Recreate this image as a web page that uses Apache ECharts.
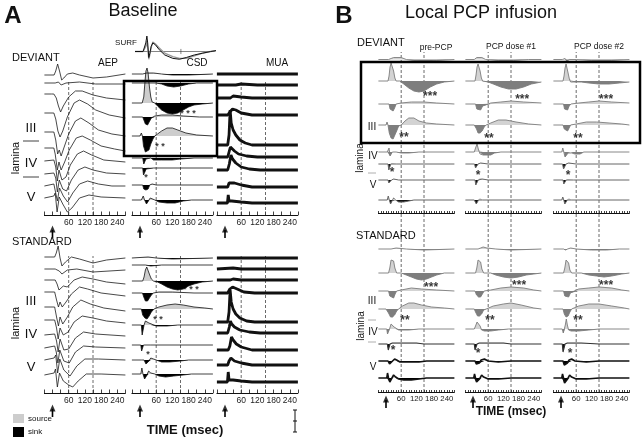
<!DOCTYPE html>
<html><head><meta charset="utf-8">
<script src="https://cdn.jsdelivr.net/npm/echarts@6/dist/echarts.min.js"></script>
<style>html,body{margin:0;padding:0;background:#fff}#c{width:644px;height:442px}</style>
</head><body><div id="c"></div>
<script>
// ---------- DATA (time ms, amplitude units; upward positive) ----------
const tickLabels = [60, 120, 180, 240];
const dashedTimes = [60, 150];

const surfBlack = [[-30,0],[0,0],[5,2],[10,10],[14,18],[17,10],[21,-7],[25,-2],[30,6],[36,10],[45,8],[60,2],[80,-4],[110,-8],[135,-9],[160,-7],[190,-4],[220,-2],[250,0],[270,1]];
const surfGray  = [[-30,0],[0,0],[5,1],[10,6],[14,12],[17,4],[21,-9],[25,-4],[30,5],[36,11],[45,9],[60,4],[80,-2],[110,-6],[135,-8],[160,-8],[190,-5],[220,-2],[250,0],[270,1]];

const aepDeviant = [
 [[-30,0],[6,0],[12,4],[19,11],[26,4],[34,-5],[42,-3],[55,1],[75,2],[100,0],[150,-3],[200,-2],[270,1]],
 [[-30,0],[10,0],[15,-2],[22,1],[32,-2],[50,0],[100,1],[160,-1],[270,-1]],
 [[-30,0],[-3,0],[1,-2],[5,0],[14,-4],[22,-12],[30,-18],[40,-12],[60,-3],[85,3],[110,3],[150,-1],[200,-4],[270,-6]],
 [[-30,0],[5,0],[12,-6],[20,-18],[28,-24],[38,-18],[55,-4],[80,10],[100,13],[130,9],[160,3],[210,-2],[270,-5]],
 [[-30,0],[5,0],[12,-8],[19,-22],[25,-18],[32,-24],[42,-16],[60,-2],[85,11],[105,14],[135,9],[170,2],[220,-2],[270,-4]],
 [[-30,0],[5,0],[10,-6],[18,-22],[24,-14],[32,-22],[45,-14],[62,-2],[88,10],[110,12],[140,8],[180,2],[230,-1],[270,-3]],
 [[-30,0],[5,1],[12,-6],[18,-20],[24,-9],[35,-19],[50,-16],[66,-4],[92,7],[115,10],[145,6],[190,1],[270,-1]],
 [[-30,0],[5,1],[12,-4],[18,-18],[25,-6],[38,-15],[52,-17],[70,-6],[95,4],[120,7],[150,4],[200,1],[270,0]],
 [[-30,0],[5,2],[10,3],[18,-15],[26,-2],[40,-10],[56,-16],[75,-7],[100,2],[130,5],[170,2],[220,0],[270,0]],
 [[-30,0],[5,2],[10,5],[17,-14],[25,1],[38,-6],[55,-14],[72,-10],[100,0],[135,3],[180,1],[270,0]]
];
const aepStandard = [
 [[-30,0],[8,0],[14,4],[21,11],[28,-1],[35,-9],[48,-5],[70,0],[100,-2],[150,-6],[200,-3],[270,-1]],
 [[-30,0],[10,0],[17,2],[25,-2],[35,-5],[55,-1],[90,0],[150,-3],[270,-1]],
 [[-30,0],[10,0],[17,-4],[24,-10],[30,-11],[40,-6],[55,-7],[80,0],[110,3],[150,1],[200,-2],[270,-4]],
 [[-30,0],[8,0],[15,-8],[22,-15],[28,-10],[36,-15],[50,-10],[70,-2],[100,5],[130,3],[180,-1],[270,-4]],
 [[-30,0],[8,0],[15,-10],[22,-19],[28,-10],[38,-17],[55,-10],[75,0],[105,7],[140,3],[190,-1],[270,-4]],
 [[-30,0],[8,0],[15,-8],[21,-19],[28,-8],[40,-15],[58,-12],[80,-2],[110,4],[150,2],[200,-1],[270,-3]],
 [[-30,0],[8,1],[15,-6],[21,-17],[28,-4],[42,-15],[60,-14],[85,-3],[115,3],[160,1],[270,-1]],
 [[-30,0],[8,2],[14,-4],[20,-15],[27,-2],[42,-13],[62,-15],[85,-4],[115,2],[160,1],[270,0]],
 [[-30,0],[6,2],[12,5],[19,-13],[27,1],[42,-10],[65,-16],[90,-6],[120,1],[170,1],[270,0]],
 [[-30,0],[6,2],[11,6],[18,-12],[26,2],[40,-6],[60,-10],[75,-12],[95,-6],[125,1],[180,1],[270,0]]
];

const csdDeviant = [
 [[-30,0],[10,0],[25,1],[50,1],[80,0],[120,-1],[180,-1],[270,0]],
 [[-30,0],[15,0],[20,-1],[28,0],[60,0],[80,-1],[100,-3],[125,-4],[150,-3],[180,-1],[210,0],[270,0]],
 [[-30,0],[8,0],[14,6],[18,20],[22,32],[26,35],[30,30],[35,16],[40,6],[45,1],[55,0],[65,-3],[80,-7],[100,-10],[120,-11],[140,-10],[160,-7],[180,-4],[200,-2],[230,-1],[270,0]],
 [[-30,0],[10,0],[15,-2],[20,-7],[28,-8],[35,-6],[42,-1],[55,1],[80,2],[120,2],[160,1],[220,0],[270,0]],
 [[-30,0],[0,0],[5,3],[9,0],[13,-10],[20,-16],[27,-17],[33,-14],[40,-8],[48,-3],[55,0],[65,2],[80,5],[100,8],[120,8],[140,6],[170,3],[210,1],[270,0]],
 [[-30,0],[10,0],[14,-6],[18,-6],[22,-1],[28,1],[40,0],[50,-2],[80,-2],[120,-2],[150,-1],[200,0],[270,0]],
 [[-30,0],[10,0],[13,-7],[20,-7],[23,-1],[30,1],[50,0],[100,0],[270,0]],
 [[-30,0],[10,0],[14,-4],[22,-5],[30,-4],[36,0],[45,1],[60,0],[100,0],[270,0]],
 [[-30,0],[5,0],[12,4],[17,0],[24,-4],[30,-2],[38,2],[45,1],[55,0],[70,-2],[100,-3],[130,-3],[160,-1],[190,0],[270,0]]
];
const csdStandard = [
 [[-30,0],[30,1],[60,0],[120,-1],[270,0]],
 [[-30,0],[20,0],[40,-1],[80,0],[270,0]],
 [[-30,0],[10,0],[15,4],[20,11],[25,14],[30,12],[36,6],[42,2],[50,0],[65,-1],[80,-3],[100,-6],[120,-8],[140,-9],[160,-8],[180,-5],[200,-3],[230,-1],[270,0]],
 [[-30,0],[0,0],[5,2],[9,0],[14,-4],[20,-8],[28,-8],[35,-6],[42,-2],[50,0],[70,1],[120,1],[200,0],[270,0]],
 [[-30,0],[5,0],[10,-6],[18,-9],[26,-10],[34,-7],[42,-3],[52,0],[70,2],[100,4],[130,5],[160,4],[200,2],[240,1],[270,0]],
 [[-30,0],[5,0],[8,-10],[12,-10],[15,0],[20,4],[26,5],[33,2],[40,0],[60,-1],[100,-1],[140,0],[270,0]],
 [[-30,0],[3,0],[6,-6],[10,-6],[13,0],[20,1],[40,0],[270,0]],
 [[-30,0],[5,0],[10,2],[15,0],[22,-4],[30,-2],[40,2],[50,1],[60,0],[80,-2],[110,-2],[150,-1],[180,0],[270,0]],
 [[-30,0],[3,0],[7,6],[11,0],[17,-5],[24,-2],[32,3],[40,1],[55,0],[70,-2],[95,-3],[125,-2],[160,-1],[190,0],[270,0]]
];
const csdDeviantStars = [[2,178,-8,'* * *'],[4,74,-8,'* *'],[6,22,-7,'*']];
const csdStandardStars = [[2,189,-6,'* * *'],[4,67,-8,'* *'],[6,30,-7,'*']];

const muaDeviant = [
 [[-30,0],[270,0]],
 [[-30,0],[40,0],[60,1],[120,0],[270,0]],
 [[-30,0],[20,0],[30,2],[60,1],[100,0],[270,0]],
 [[-30,0],[10,0],[18,3],[28,6],[40,5],[60,2],[100,0],[270,0]],
 [[-30,0],[10,0],[15,10],[19,35],[23,22],[30,15],[40,10],[55,5],[75,2],[100,0],[270,0]],
 [[-30,0],[10,0],[16,6],[20,10],[25,8],[35,6],[50,3],[80,1],[120,0],[270,0]],
 [[-30,0],[10,0],[16,6],[22,15],[28,11],[40,7],[60,3],[90,1],[130,0],[270,0]],
 [[-30,0],[10,0],[15,4],[22,6],[35,4],[60,2],[100,0],[270,0]],
 [[-30,0],[9,0],[12,8],[15,2],[25,2],[60,1],[100,0],[270,0]]
];
const muaStandard = [
 [[-30,0],[270,0]],
 [[-30,0],[30,1],[60,0],[270,0]],
 [[-30,0],[20,0],[30,1],[60,0],[270,0]],
 [[-30,0],[10,0],[18,4],[28,6],[45,4],[70,1],[110,0],[270,0]],
 [[-30,0],[10,0],[15,10],[19,32],[23,20],[30,13],[40,8],[55,4],[80,1],[110,0],[270,0]],
 [[-30,0],[10,0],[16,6],[20,12],[25,9],[35,6],[55,3],[90,1],[130,0],[270,0]],
 [[-30,0],[12,0],[18,4],[24,13],[30,10],[42,6],[60,3],[100,0],[270,0]],
 [[-30,0],[10,0],[15,4],[22,7],[35,4],[60,2],[100,0],[270,0]],
 [[-30,0],[9,0],[12,10],[15,2],[30,2],[60,1],[100,0],[270,0]]
];

const prePcpDeviant = [
 [[-30,0],[10,0],[20,1],[30,2],[60,2],[80,0],[110,-1],[160,-2],[200,-1],[270,0]],
 [[-30,0],[8,0],[12,5],[16,14],[20,18],[25,17],[30,10],[35,3],[40,0],[55,0],[70,-3],[90,-7],[110,-10],[130,-11],[150,-10],[175,-6],[200,-3],[230,-1],[270,0]],
 [[-30,0],[12,0],[16,-5],[22,-7],[28,-7],[34,-4],[40,0],[60,1],[100,2],[150,2],[200,1],[270,0]],
 [[-30,0],[0,0],[4,3],[8,0],[13,-8],[20,-13],[28,-14],[35,-12],[42,-6],[50,-1],[60,0],[75,4],[90,7],[110,7],[130,4],[160,2],[200,1],[270,0]],
 [[-30,0],[5,0],[12,4],[16,-4],[20,-6],[25,0],[30,2],[40,0],[60,-1],[90,-1],[130,0],[270,0]],
 [[-30,0],[8,0],[11,-6],[16,-6],[19,0],[25,1],[40,0],[270,0]],
 [[-30,0],[8,0],[11,-3],[18,-3],[22,0],[30,1],[50,0],[270,0]],
 [[-30,0],[5,0],[9,4],[13,0],[18,-4],[24,-1],[30,2],[38,0],[50,-2],[70,-2],[90,-1],[110,0],[270,0]]
];
const prePcpStandard = [
 [[-30,0],[20,0],[40,1],[80,0],[150,-1],[270,0]],
 [[-30,0],[10,0],[15,5],[20,13],[25,15],[30,12],[35,5],[42,0],[60,0],[80,-2],[100,-4],[120,-6],[140,-7],[160,-6],[180,-4],[200,-2],[230,0],[270,0]],
 [[-30,0],[0,0],[5,2],[10,0],[15,-5],[22,-7],[30,-7],[36,-3],[42,0],[60,1],[100,3],[140,2],[200,1],[270,0]],
 [[-30,0],[0,0],[5,2],[10,-4],[18,-8],[26,-8],[34,-6],[42,-2],[50,0],[65,3],[90,6],[110,6],[140,4],[180,2],[230,1],[270,0]],
 [[-30,0],[3,0],[6,-5],[10,-5],[14,0],[20,5],[26,5],[32,2],[38,0],[50,-1],[90,-1],[130,0],[270,0]],
 [[-30,0],[5,0],[9,-6],[13,-6],[16,0],[25,1],[60,1],[120,1],[150,0],[270,0]],
 [[-30,0],[8,0],[14,-3],[20,-3],[26,0],[34,2],[42,1],[55,-1],[90,-1],[130,-1],[160,0],[270,0]],
 [[-30,0],[3,0],[6,5],[10,0],[15,-4],[22,-2],[30,3],[38,1],[50,-1],[70,-2],[100,-2],[130,-1],[160,0],[270,0]]
];
const dose1Deviant = [
 [[-30,0],[5,0],[15,2],[35,2],[50,0],[100,-1],[160,-1],[220,0],[270,0]],
 [[-30,0],[8,0],[12,6],[16,14],[20,17],[24,16],[28,10],[33,3],[38,0],[60,-1],[80,-3],[110,-6],[140,-8],[170,-8],[200,-6],[230,-3],[270,-1]],
 [[-30,0],[10,0],[15,-5],[22,-7],[30,-6],[38,-2],[45,0],[70,1],[110,2],[150,3],[200,2],[270,1]],
 [[-30,0],[5,0],[10,2],[14,-4],[20,-8],[28,-8],[36,-6],[44,-2],[52,0],[70,2],[100,5],[130,5],[170,3],[220,1],[270,0]],
 [[-30,0],[5,0],[10,4],[16,8],[22,2],[28,-2],[40,-3],[70,-3],[85,-1],[110,0],[270,0]],
 [[-30,0],[6,0],[10,-4],[16,-4],[20,0],[30,1],[60,0],[270,0]],
 [[-30,0],[8,0],[11,-5],[17,-5],[21,0],[28,2],[36,1],[60,0],[270,0]],
 [[-30,0],[5,0],[9,2],[13,-4],[18,-4],[22,0],[28,2],[38,0],[60,0],[270,0]]
];
const dose1Standard = [
 [[-30,0],[20,0],[30,1],[40,2],[55,1],[90,0],[150,-1],[270,0]],
 [[-30,0],[10,0],[15,5],[20,13],[25,15],[30,11],[35,4],[42,0],[70,0],[90,-2],[120,-4],[150,-5],[180,-4],[210,-2],[240,-1],[270,0]],
 [[-30,0],[8,0],[14,-4],[22,-6],[30,-6],[37,-3],[44,0],[70,1],[110,3],[150,4],[200,3],[240,1],[270,0]],
 [[-30,0],[5,0],[10,-3],[18,-7],[26,-7],[34,-5],[42,-1],[52,0],[80,3],[120,5],[150,6],[190,4],[240,1],[270,0]],
 [[-30,0],[5,0],[10,3],[16,7],[22,8],[28,3],[34,-1],[45,-2],[70,-2],[100,-1],[140,0],[270,0]],
 [[-30,0],[5,0],[8,-6],[13,-6],[16,0],[25,1],[60,1],[120,1],[150,0],[270,0]],
 [[-30,0],[8,0],[13,-3],[20,-5],[25,-2],[32,1],[45,2],[60,0],[100,-1],[150,0],[270,0]],
 [[-30,0],[3,0],[6,4],[10,0],[14,-4],[20,-5],[26,-1],[34,3],[42,1],[60,-1],[100,-1],[150,0],[270,0]]
];
const dose2Deviant = [
 [[-30,0],[5,0],[10,2],[16,1],[24,-2],[32,0],[60,0],[120,-1],[200,-1],[270,0]],
 [[-30,0],[8,0],[12,5],[16,13],[20,17],[24,15],[28,8],[33,2],[38,-1],[50,-1],[80,-1],[110,-2],[150,-3],[190,-3],[230,-2],[270,-1]],
 [[-30,0],[10,0],[14,-5],[20,-7],[26,-6],[32,-2],[40,0],[70,1],[110,2],[150,3],[200,2],[270,1]],
 [[-30,0],[0,0],[4,2],[8,0],[13,-4],[20,-6],[26,-6],[32,-3],[38,0],[60,1],[100,3],[140,3],[190,2],[240,1],[270,0]],
 [[-30,0],[3,0],[7,4],[12,2],[16,-5],[22,-6],[28,-1],[34,1],[42,-1],[55,-2],[75,-2],[90,0],[270,0]],
 [[-30,0],[6,0],[10,-5],[16,-5],[20,0],[30,1],[60,0],[270,0]],
 [[-30,0],[8,0],[11,-4],[17,-4],[21,0],[28,1],[50,0],[270,0]],
 [[-30,0],[3,0],[7,3],[11,0],[15,-4],[20,-4],[25,0],[32,2],[40,0],[270,0]]
];
const dose2Standard = [
 [[-30,0],[10,0],[18,-1],[26,0],[38,1],[60,0],[120,-1],[180,-1],[230,0],[270,0]],
 [[-30,0],[10,0],[15,5],[20,13],[25,15],[30,10],[35,3],[42,0],[80,0],[110,-2],[140,-3],[170,-4],[200,-3],[240,-1],[270,0]],
 [[-30,0],[10,0],[15,-5],[22,-7],[30,-6],[37,-2],[44,0],[70,2],[110,3],[150,4],[200,3],[240,1],[270,0]],
 [[-30,0],[0,0],[4,2],[8,0],[13,-5],[20,-8],[28,-7],[35,-3],[42,0],[70,3],[110,5],[150,5],[200,3],[250,1],[270,0]],
 [[-30,0],[5,0],[9,-4],[13,-5],[17,4],[21,10],[25,4],[30,-1],[40,-2],[70,-2],[110,-1],[150,0],[270,0]],
 [[-30,0],[5,0],[8,-8],[13,-8],[16,0],[25,1],[80,1],[150,0],[270,0]],
 [[-30,0],[8,0],[13,-4],[20,-6],[25,-2],[32,1],[42,2],[55,0],[100,-1],[150,0],[270,0]],
 [[-30,0],[3,0],[6,4],[10,0],[14,-5],[20,-6],[26,-1],[34,3],[42,1],[60,-1],[100,-1],[150,0],[270,0]]
];
const preDevStars = [[1,174,-13,'***'],[3,71,-10,'**'],[5,24,-6,'*']];
const preStdStars = [[1,178,-12,'***'],[3,75,-9,'**'],[5,28,-4,'*']];
const d1DevStars = [[1,194,-16,'***'],[3,63,-11,'**'],[5,20,-9,'*']];
const d1StdStars = [[1,182,-10,'***'],[3,67,-9,'**'],[5,20,-7,'*']];
const d2DevStars = [[1,178,-16,'***'],[3,67,-11,'**'],[5,28,-9,'*']];
const d2StdStars = [[1,178,-10,'***'],[3,67,-9,'**'],[5,36,-7,'*']];

// ---------- LAYOUT ----------
const FONT = '"Liberation Sans", Arial, Helvetica, sans-serif';
const grids = [], xAxes = [], yAxes = [], series = [];
const TMIN = -30, TMAX = 270;

function addGrid(left, top, width, height, ymin, ymax) {
  const i = grids.length;
  grids.push({left: left, top: top, width: width, height: height, containLabel: false});
  xAxes.push({type: 'value', gridIndex: i, min: TMIN, max: TMAX, show: false});
  yAxes.push({type: 'value', gridIndex: i, min: ymin, max: ymax, show: false});
  return i;
}
function splitSign(pts, sign) {
  const out = [];
  for (let k = 0; k < pts.length; k++) {
    const t = pts[k][0], v = pts[k][1];
    if (k > 0) {
      const t0 = pts[k-1][0], v0 = pts[k-1][1];
      if ((v0 > 0 && v < 0) || (v0 < 0 && v > 0)) {
        out.push([t0 + (t - t0) * (v0 / (v0 - v)), 0]);
      }
    }
    out.push([t, sign > 0 ? Math.max(v, 0) : Math.min(v, 0)]);
  }
  return out;
}
function addTrace(left, width, y, pts, st, star) {
  const g = addGrid(left, y - 60, width, 120, -60, 60);
  if (st.fill) {
    series.push({type: 'line', xAxisIndex: g, yAxisIndex: g, data: splitSign(pts, 1), symbol: 'none', silent: true,
      lineStyle: {opacity: 0}, areaStyle: {color: st.src, opacity: 1}, z: 1});
    series.push({type: 'line', xAxisIndex: g, yAxisIndex: g, data: splitSign(pts, -1), symbol: 'none', silent: true,
      lineStyle: {opacity: 0}, areaStyle: {color: st.sink, opacity: 1}, z: 1});
  }
  series.push({type: 'line', xAxisIndex: g, yAxisIndex: g, data: pts, symbol: 'none', silent: true,
    lineStyle: {color: st.color, width: st.w}, z: 3});
  if (star) {
    series.push({type: 'scatter', xAxisIndex: g, yAxisIndex: g, data: [[star[1], star[2]]], symbolSize: 1, silent: true,
      itemStyle: {color: 'rgba(0,0,0,0)'}, z: 5,
      label: {show: true, position: 'inside', formatter: star[3], fontSize: st.starSize, fontWeight: 'bold',
        color: '#000', fontFamily: FONT, offset: [0, 3]}});
  }
}
function addBlock(left, width, rows, traces, styleFn, stars) {
  traces.forEach(function (pts, i) {
    const s = (stars || []).find(function (a) { return a[0] === i; });
    addTrace(left, width, rows[i], pts, styleFn(i), s);
  });
}
function addColumn(left, width, top, bottom, interval, tickLen, labels, labelSize) {
  const i = grids.length;
  grids.push({left: left, top: top, width: width, height: bottom - top});
  xAxes.push({type: 'value', gridIndex: i, min: TMIN, max: TMAX, interval: interval, position: 'bottom',
    axisLine: {show: true, onZero: false, lineStyle: {color: '#111', width: 1}},
    axisTick: {show: true, inside: true, length: tickLen, lineStyle: {color: '#111', width: 0.8}},
    axisLabel: {show: labels, margin: 3, fontSize: labelSize || 8.5, color: '#222', fontFamily: FONT,
      formatter: function (v) { return tickLabels.indexOf(v) >= 0 ? String(v) : ''; }},
    splitLine: {show: false}});
  yAxes.push({type: 'value', gridIndex: i, min: 0, max: 1, show: false});
  dashedTimes.forEach(function (t) {
    series.push({type: 'line', xAxisIndex: i, yAxisIndex: i, data: [[t, 0], [t, 1]], symbol: 'none', silent: true,
      lineStyle: {color: '#444', width: 0.8, type: [3, 2]}, z: 0});
  });
}
function addArrow(left, width, headY) {
  const g = addGrid(left, headY, width, 12, 0, 12);
  series.push({type: 'line', xAxisIndex: g, yAxisIndex: g, data: [[0, 0], [0, 8]], symbol: 'none', silent: true,
    lineStyle: {color: '#000', width: 1.6}});
  series.push({type: 'scatter', xAxisIndex: g, yAxisIndex: g, data: [[0, 9]], symbol: 'triangle', symbolSize: [6, 7],
    silent: true, itemStyle: {color: '#000'}});
}

// Panel A columns
const A_W = 81, AEP_L = 44.4, CSD_L = 131.9, MUA_L = 216.9;
const aepDevRows = [75, 83, 94, 113, 132, 148, 161, 174, 186, 198];
const aepStdRows = [257, 269, 280, 292, 307, 320, 335, 348, 360, 375];
const csdDevRows = [74, 83, 103, 117, 136, 158, 168, 185, 200];
const csdStdRows = [258, 265, 281, 293, 309, 325, 345, 360, 374];
const muaDevRows = [74, 85, 98, 115, 145, 157, 170, 187, 203];
const muaStdRows = [258, 269, 280, 293, 322, 333, 350, 365, 382];

[AEP_L, CSD_L, MUA_L].forEach(function (l) {
  addColumn(l, A_W, 82, 215, 30, 3.5, true, 8.5);
  addColumn(l, A_W, 256, 393, 30, 3.5, true, 8.5);
  addArrow(l, A_W, 226);
  addArrow(l, A_W, 405);
});
const aepStyle = function () { return {color: '#1a1a1a', w: 0.8}; };
const csdStyle = function () { return {color: '#111', w: 0.8, fill: true, src: '#cdcdcd', sink: '#000', starSize: 9}; };
const muaStyle = function () { return {color: '#111', w: 2.8}; };
addBlock(AEP_L, A_W, aepDevRows, aepDeviant, aepStyle);
addBlock(AEP_L, A_W, aepStdRows, aepStandard, aepStyle);
addBlock(CSD_L, A_W, csdDevRows, csdDeviant, csdStyle, csdDeviantStars);
addBlock(CSD_L, A_W, csdStdRows, csdStandard, csdStyle, csdStandardStars);
addBlock(MUA_L, A_W, muaDevRows, muaDeviant, muaStyle);
addBlock(MUA_L, A_W, muaStdRows, muaStandard, muaStyle);

// SURF inset
(function () {
  const g = addGrid(135, 43 - 60, 81, 120, -60, 60);
  series.push({type: 'line', xAxisIndex: g, yAxisIndex: g, data: [[-15, 0], [265, 0]], symbol: 'none', silent: true, lineStyle: {color: '#333', width: 0.6}});
  series.push({type: 'line', xAxisIndex: g, yAxisIndex: g, data: [[140, -3], [140, 3]], symbol: 'none', silent: true, lineStyle: {color: '#333', width: 0.6}});
  series.push({type: 'line', xAxisIndex: g, yAxisIndex: g, data: surfGray, symbol: 'none', silent: true, lineStyle: {color: '#9a9a9a', width: 1.3}});
  series.push({type: 'line', xAxisIndex: g, yAxisIndex: g, data: surfBlack, symbol: 'none', silent: true, lineStyle: {color: '#111', width: 1}});
})();

// Panel B columns
const B_W = 76, PRE_L = 378.4, D1_L = 465.4, D2_L = 553.4;
const bDevRows = [59, 81, 104, 125, 152, 164, 180, 200];
const bStdRows = [249, 273, 291, 309, 329, 344, 361, 378];
[PRE_L, D1_L, D2_L].forEach(function (l) {
  addColumn(l, B_W, 52, 213, 10, 2, false, 8);
  addColumn(l, B_W, 213, 392, 10, 2, true, 7.8);
  addArrow(l, B_W, 396);
});
const bDevStyle = function (i) {
  if (i < 5) return {color: '#7c7c7c', w: 0.9, fill: true, src: '#d3d3d3', sink: '#7e7e7e', starSize: 12};
  return {color: '#666', w: 1, fill: true, src: '#d3d3d3', sink: '#111', starSize: 12};
};
const bStdStyle = function (i) {
  if (i < 5) return {color: '#7c7c7c', w: 0.9, fill: true, src: '#d3d3d3', sink: '#7e7e7e', starSize: 12};
  if (i === 5) return {color: '#333', w: 1.1, fill: true, src: '#d3d3d3', sink: '#111', starSize: 12};
  return {color: '#111', w: 1.6, fill: true, src: '#d3d3d3', sink: '#000', starSize: 12};
};
addBlock(PRE_L, B_W, bDevRows, prePcpDeviant, bDevStyle, preDevStars);
addBlock(PRE_L, B_W, bStdRows, prePcpStandard, bStdStyle, preStdStars);
addBlock(D1_L, B_W, bDevRows, dose1Deviant, bDevStyle, d1DevStars);
addBlock(D1_L, B_W, bStdRows, dose1Standard, bStdStyle, d1StdStars);
addBlock(D2_L, B_W, bDevRows, dose2Deviant, bDevStyle, d2DevStars);
addBlock(D2_L, B_W, bStdRows, dose2Standard, bStdStyle, d2StdStars);

// ---------- TEXT & ANNOTATIONS ----------
function txt(x, y, s, size, opts) {
  opts = opts || {};
  return {type: 'text', x: x, y: y, rotation: opts.rot || 0, z: 20, silent: true,
    style: {text: s, fill: opts.color || '#111', font: (opts.bold ? 'bold ' : '') + size + 'px ' + FONT,
      textAlign: opts.align || 'center', textVerticalAlign: 'middle'}};
}
function ln(x1, y1, x2, y2, w, c) {
  return {type: 'line', z: 20, silent: true, shape: {x1: x1, y1: y1, x2: x2, y2: y2}, style: {stroke: c || '#111', lineWidth: w || 1}};
}
const graphic = [
  txt(13, 16, 'A', 24, {bold: true}),
  txt(143, 11, 'Baseline', 18),
  txt(126, 43, 'SURF', 8),
  txt(12, 58, 'DEVIANT', 11, {align: 'left'}),
  txt(108, 63, 'AEP', 10), txt(197, 63, 'CSD', 10), txt(277, 63, 'MUA', 10),
  txt(31, 128, 'III', 13), txt(31, 163, 'IV', 13), txt(31, 197, 'V', 13),
  txt(16, 158, 'lamina', 11, {rot: Math.PI / 2}),
  ln(23, 141, 39, 141, 0.8), ln(23, 177, 39, 177, 0.8),
  txt(12, 242, 'STANDARD', 11, {align: 'left'}),
  txt(31, 301, 'III', 13), txt(31, 334, 'IV', 13), txt(31, 367, 'V', 13),
  txt(16, 323, 'lamina', 11, {rot: Math.PI / 2}),
  {type: 'rect', z: 20, silent: true, shape: {x: 13, y: 414, width: 11, height: 9}, style: {fill: '#cdcdcd'}},
  {type: 'rect', z: 20, silent: true, shape: {x: 13, y: 427, width: 11, height: 10}, style: {fill: '#000'}},
  txt(28, 419, 'source', 8, {align: 'left'}), txt(28, 432, 'sink', 8, {align: 'left'}),
  txt(185, 430, 'TIME (msec)', 13, {bold: true}),
  ln(295, 410, 295, 432, 1), ln(293, 410, 297, 410, 1), ln(293, 421, 297, 421, 1), ln(293, 432, 297, 432, 1),
  {type: 'rect', z: 21, silent: true, shape: {x: 124, y: 81, width: 93, height: 75}, style: {fill: 'none', stroke: '#000', lineWidth: 2.5}},
  txt(344, 16, 'B', 24, {bold: true}),
  txt(481, 13, 'Local PCP infusion', 18),
  txt(357, 43, 'DEVIANT', 11, {align: 'left'}),
  txt(436, 48, 'pre-PCP', 8.5), txt(511, 47, 'PCP dose #1', 8.5), txt(599, 47, 'PCP dose #2', 8.5),
  txt(372, 127, 'III', 10), txt(373, 156, 'IV', 10), txt(373, 185, 'V', 10),
  txt(360, 158, 'lamina', 10, {rot: Math.PI / 2}),
  ln(368, 173, 376, 173, 0.8, '#999'),
  txt(356, 236, 'STANDARD', 11, {align: 'left'}),
  txt(372, 301, 'III', 10), txt(373, 332, 'IV', 10), txt(373, 367, 'V', 10),
  txt(361, 326, 'lamina', 10, {rot: Math.PI / 2}),
  ln(368, 320, 376, 320, 0.8, '#999'), ln(368, 342, 376, 342, 0.8, '#999'),
  txt(511, 412, 'TIME (msec)', 12, {bold: true}),
  {type: 'rect', z: 21, silent: true, shape: {x: 361, y: 62, width: 279, height: 81}, style: {fill: 'none', stroke: '#000', lineWidth: 2.5}}
];

const chart = echarts.init(document.getElementById('c'), null, {renderer: 'canvas'});
chart.setOption({
  animation: false,
  backgroundColor: '#fff',
  grid: grids, xAxis: xAxes, yAxis: yAxes, series: series,
  graphic: graphic
});
</script>
</body></html>
